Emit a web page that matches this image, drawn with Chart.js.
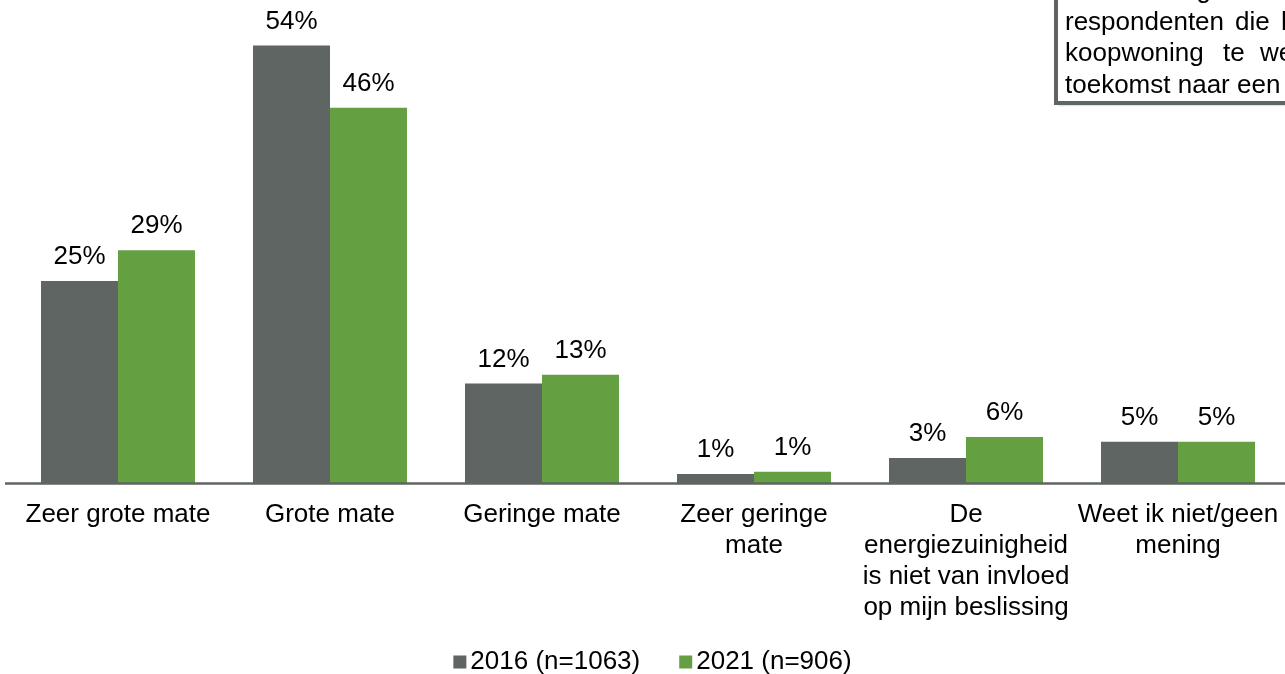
<!DOCTYPE html>
<html>
<head>
<meta charset="utf-8">
<script src="https://cdn.jsdelivr.net/npm/chart.js@4/dist/chart.umd.min.js"></script>
<style>
  html, body { margin: 0; padding: 0; background: #ffffff; }
  #wrap { width: 1285px; height: 674px; position: relative; }
</style>
</head>
<body>
<div id="wrap"><canvas id="c" width="1285" height="674"></canvas></div>
<script>
const categories = [
  ["Zeer grote mate"],
  ["Grote mate"],
  ["Geringe mate"],
  ["Zeer geringe", "mate"],
  ["De", "energiezuinigheid", "is niet van invloed", "op mijn beslissing"],
  ["Weet ik niet/geen", "mening"]
];
const seriesNames = ["2016 (n=1063)", "2021 (n=906)"];
const values2016 = [25.0, 54.1, 12.3, 1.1, 3.1, 5.1];
const values2021 = [28.8, 46.4, 13.4, 1.4, 5.7, 5.1];
const labels2016 = ["25%", "54%", "12%", "1%", "3%", "5%"];
const labels2021 = ["29%", "46%", "13%", "1%", "6%", "5%"];
const noteLines = [
  ["Deze", "vraag"],
  ["respondenten", "die", "het"],
  ["koopwoning", "te", "wensen"],
  ["toekomst naar een andere woning"]
];

const FONT = "'Liberation Sans', Arial, Helvetica, sans-serif";
const GRAY = "#5e6562";
const GREEN = "#64a042";

const valueLabelPlugin = {
  id: "valueLabels",
  afterDatasetsDraw(chart) {
    const ctx = chart.ctx;
    const lbls = [labels2016, labels2021];
    ctx.save();
    ctx.font = "26px " + FONT;
    ctx.fillStyle = "#000000";
    ctx.textAlign = "center";
    ctx.textBaseline = "alphabetic";
    chart.data.datasets.forEach((ds, di) => {
      const meta = chart.getDatasetMeta(di);
      meta.data.forEach((bar, i) => {
        ctx.fillText(lbls[di][i], bar.x, bar.y - 17);
      });
    });
    const y = chart.chartArea.bottom;
    ctx.strokeStyle = GRAY;
    ctx.lineWidth = 2.5;
    ctx.beginPath();
    ctx.moveTo(5, y + 0.5);
    ctx.lineTo(chart.width, y + 0.5);
    ctx.stroke();
    ctx.restore();
  }
};

const legendPlugin = {
  id: "customLegend",
  afterDraw(chart) {
    const ctx = chart.ctx;
    ctx.save();
    ctx.font = "26px " + FONT;
    const box = 13, gap = 4, itemGap = 39;
    const items = chart.data.datasets.map(ds => ({
      text: ds.label, color: ds.backgroundColor, w: ctx.measureText(ds.label).width
    }));
    let total = 0;
    items.forEach((it, i) => { total += box + gap + it.w + (i < items.length - 1 ? itemGap : 0); });
    let x = chart.width / 2 + 10 - total / 2;
    const cy = 662;
    ctx.textBaseline = "middle";
    ctx.textAlign = "left";
    items.forEach(it => {
      ctx.fillStyle = it.color;
      ctx.fillRect(x, cy - box / 2, box, box);
      ctx.fillStyle = "#000000";
      ctx.fillText(it.text, x + box + gap, cy);
      x += box + gap + it.w + itemGap;
    });
    ctx.restore();
  }
};

const notePlugin = {
  id: "noteBox",
  afterDraw(chart) {
    const ctx = chart.ctx;
    ctx.save();
    ctx.shadowColor = "rgba(0,0,0,0.35)";
    ctx.shadowOffsetX = 2;
    ctx.shadowOffsetY = 2;
    ctx.shadowBlur = 2;
    ctx.fillStyle = "#ffffff";
    ctx.fillRect(1056, -20, 400, 123);
    ctx.shadowColor = "rgba(0,0,0,0)";
    ctx.strokeStyle = GRAY;
    ctx.lineWidth = 4;
    ctx.strokeRect(1056, -20, 400, 123);
    ctx.restore();
    ctx.save();
    ctx.font = "26px " + FONT;
    ctx.fillStyle = "#000000";
    ctx.textBaseline = "alphabetic";
    ctx.textAlign = "left";
    const baselines = [-2, 29.5, 61, 92.5];
    const wordX = [[1065, 1146], [1065, 1235, 1281], [1065, 1223, 1260], [1065]];
    noteLines.forEach((line, li) => {
      line.forEach((w, wi) => ctx.fillText(w, wordX[li][wi], baselines[li]));
    });
    ctx.restore();
  }
};

new Chart(document.getElementById("c"), {
  type: "bar",
  data: {
    labels: categories,
    datasets: [
      { label: seriesNames[0], data: values2016, backgroundColor: GRAY },
      { label: seriesNames[1], data: values2021, backgroundColor: GREEN }
    ]
  },
  options: {
    responsive: false,
    animation: false,
    devicePixelRatio: 1,
    layout: { padding: { top: 6, left: 12, right: 1, bottom: 0 } },
    plugins: { legend: { display: false }, tooltip: { enabled: false } },
    datasets: { bar: { categoryPercentage: 0.7264, barPercentage: 1.0 } },
    scales: {
      x: {
        grid: { display: false, drawTicks: false },
        border: { display: false },
        ticks: {
          autoSkip: false, maxRotation: 0, minRotation: 0,
          color: "#000000", padding: 16,
          font: { family: FONT, size: 26, lineHeight: 1.2 }
        },
        afterFit(scale) {
          scale.height = 191;
          scale.paddingLeft = 0;
          scale.paddingRight = 0;
        }
      },
      y: {
        display: false,
        min: 0, max: 59
      }
    }
  },
  plugins: [valueLabelPlugin, legendPlugin, notePlugin]
});
</script>
</body>
</html>
